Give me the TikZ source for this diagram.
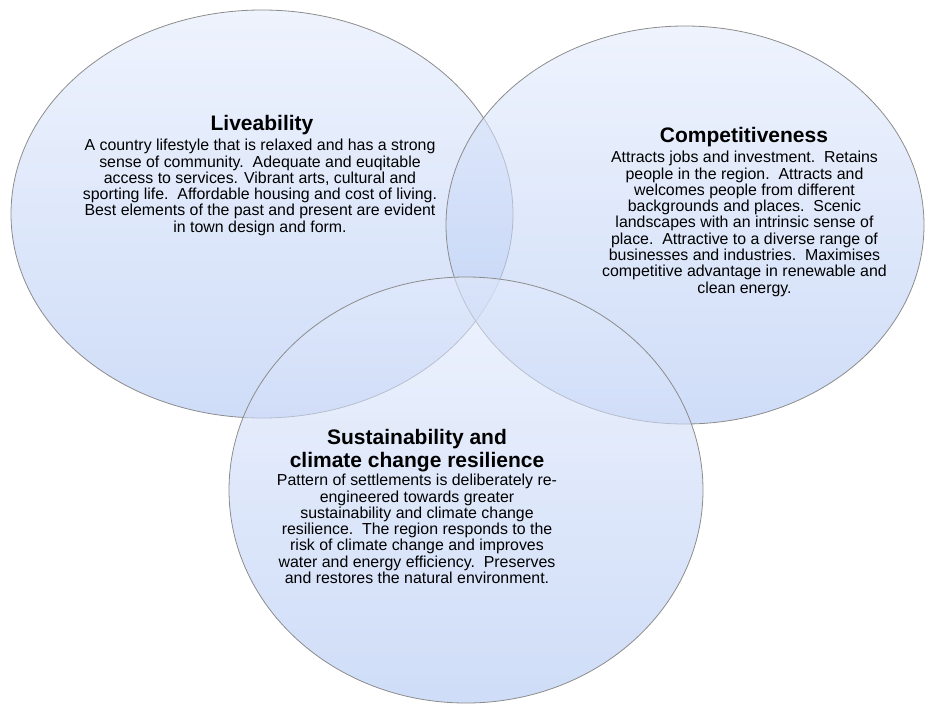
\documentclass[tikz,border=0pt]{standalone}
\usepackage{fontspec}
\setmainfont{Liberation Sans}
\usetikzlibrary{positioning}

\definecolor{vennTop}{RGB}{227,235,252}
\definecolor{vennBot}{RGB}{175,198,243}
\definecolor{vennLine}{RGB}{140,140,140}

\begin{document}
\begin{tikzpicture}[x=1pt,y=-1pt,
  venn/.style={draw=vennLine,line width=0.8pt,top color=vennTop,bottom color=vennBot,fill opacity=0.6,draw opacity=1},
  heading/.style={anchor=north,inner sep=0pt,align=center,font=\fontsize{21}{22.5}\selectfont\bfseries},
  blurb/.style={anchor=north,inner sep=0pt,align=center,font=\fontsize{15.9}{16.3}\selectfont}]
\useasboundingbox (0,0) rectangle (926,704);

% the three circles
\draw[venn] (262,214) ellipse [x radius=251, y radius=204];
\draw[venn] (685,225) ellipse [x radius=239, y radius=199];
\draw[venn] (466,490) ellipse [x radius=237, y radius=213];

% Liveability
\node[heading] (live) at (262,115.5) {Liveability};
\node[blurb] (liveText) at (260,139) {A country lifestyle that is relaxed and has a strong\\
  sense of community.\ \ Adequate and euqitable\\
  access to services. Vibrant arts, cultural and\\
  sporting life.\ \ Affordable housing and cost of living.\\
  Best elements of the past and present are evident\\
  in town design and form.};

% Competitiveness
\node[heading] (comp) at (744,127) {Competitiveness};
\node[blurb] (compText) at (744.5,151) {Attracts jobs and investment.\ \ Retains\\
  people in the region.\ \ Attracts and\\
  welcomes people from different\\
  backgrounds and places.\ \ Scenic\\
  landscapes with an intrinsic sense of\\
  place.\ \ Attractive to a diverse range of\\
  businesses and industries.\ \ Maximises\\
  competitive advantage in renewable and\\
  clean energy.};

% Sustainability
\node[heading] (sust) at (417,429.5) {Sustainability and\\climate change resilience};
\node[blurb] (sustText) at (417,474) {Pattern of settlements is deliberately re-\\
  engineered towards greater\\
  sustainability and climate change\\
  resilience.\ \ The region responds to the\\
  risk of climate change and improves\\
  water and energy efficiency.\ \ Preserves\\
  and restores the natural environment.};
\end{tikzpicture}
\end{document}
